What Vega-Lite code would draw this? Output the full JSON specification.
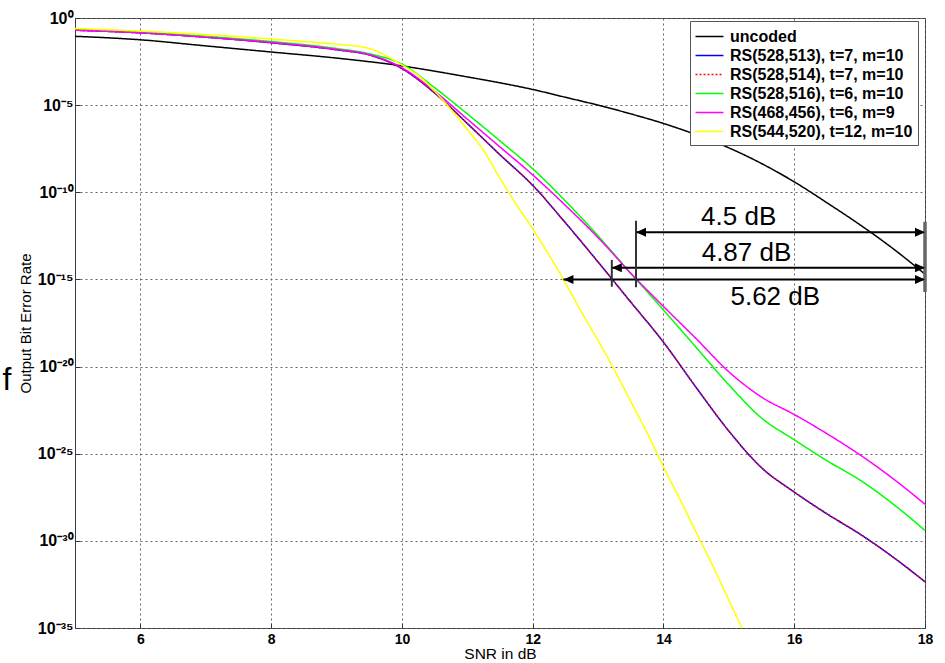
{
  "$schema": "https://vega.github.io/schema/vega-lite/v6.json",
  "width": 850,
  "height": 610,
  "autosize": {"type": "none"},
  "padding": {"left": 75, "top": 18, "right": 20, "bottom": 35},
  "background": "white",
  "config": {
    "font": "Liberation Sans",
    "view": {"stroke": "#3a3a3a", "strokeWidth": 1},
    "axis": {
      "labelFont": "Liberation Sans", "labelFontWeight": "bold", "labelColor": "#000",
      "titleFont": "Liberation Sans", "titleFontWeight": "normal", "titleFontSize": 15, "titleColor": "#000",
      "grid": true, "gridDash": [2, 3], "gridColor": "#666", "gridOpacity": 1,
      "ticks": true, "tickSize": -5, "tickColor": "#333",
      "domain": false, "labelFlush": false, "labelOverlap": false
    }
  },
  "datasets": {
    "curves": [
      {"series": "uncoded", "x": 5, "y": 8.91e-2}, {"series": "uncoded", "x": 6, "y": 5.62e-2}, {"series": "uncoded", "x": 7, "y": 2.51e-2}, {"series": "uncoded", "x": 8, "y": 1.12e-2}, {"series": "uncoded", "x": 9, "y": 5.01e-3}, {"series": "uncoded", "x": 10, "y": 1.78e-3}, {"series": "uncoded", "x": 10.5, "y": 8.91e-4}, {"series": "uncoded", "x": 11, "y": 4.17e-4}, {"series": "uncoded", "x": 11.5, "y": 1.91e-4}, {"series": "uncoded", "x": 12, "y": 7.94e-5}, {"series": "uncoded", "x": 12.5, "y": 2.82e-5}, {"series": "uncoded", "x": 13, "y": 1.0e-5}, {"series": "uncoded", "x": 13.5, "y": 3.16e-6}, {"series": "uncoded", "x": 14, "y": 8.91e-7}, {"series": "uncoded", "x": 14.5, "y": 2.0e-7}, {"series": "uncoded", "x": 15, "y": 3.55e-8}, {"series": "uncoded", "x": 15.5, "y": 4.47e-9}, {"series": "uncoded", "x": 16, "y": 3.98e-10}, {"series": "uncoded", "x": 16.5, "y": 2.51e-11}, {"series": "uncoded", "x": 17, "y": 1.41e-12}, {"series": "uncoded", "x": 17.5, "y": 6.31e-14}, {"series": "uncoded", "x": 18, "y": 2.0e-15},

      {"series": "RS(528,513), t=7, m=10", "x": 5, "y": 2.0e-1}, {"series": "RS(528,513), t=7, m=10", "x": 6, "y": 1.41e-1}, {"series": "RS(528,513), t=7, m=10", "x": 7, "y": 7.94e-2}, {"series": "RS(528,513), t=7, m=10", "x": 8, "y": 3.80e-2}, {"series": "RS(528,513), t=7, m=10", "x": 9, "y": 1.51e-2}, {"series": "RS(528,513), t=7, m=10", "x": 9.5, "y": 7.59e-3}, {"series": "RS(528,513), t=7, m=10", "x": 10, "y": 1.26e-3}, {"series": "RS(528,513), t=7, m=10", "x": 10.5, "y": 5.01e-5}, {"series": "RS(528,513), t=7, m=10", "x": 11, "y": 8.91e-7}, {"series": "RS(528,513), t=7, m=10", "x": 11.5, "y": 1.41e-8}, {"series": "RS(528,513), t=7, m=10", "x": 12, "y": 2.51e-10}, {"series": "RS(528,513), t=7, m=10", "x": 12.5, "y": 1.78e-12}, {"series": "RS(528,513), t=7, m=10", "x": 13, "y": 1e-14}, {"series": "RS(528,513), t=7, m=10", "x": 13.5, "y": 5.01e-17}, {"series": "RS(528,513), t=7, m=10", "x": 14, "y": 2.51e-19}, {"series": "RS(528,513), t=7, m=10", "x": 14.5, "y": 6.31e-22}, {"series": "RS(528,513), t=7, m=10", "x": 15, "y": 2.0e-24}, {"series": "RS(528,513), t=7, m=10", "x": 15.5, "y": 1.58e-26}, {"series": "RS(528,513), t=7, m=10", "x": 16, "y": 6.31e-28}, {"series": "RS(528,513), t=7, m=10", "x": 16.5, "y": 3.55e-29}, {"series": "RS(528,513), t=7, m=10", "x": 17, "y": 2.51e-30}, {"series": "RS(528,513), t=7, m=10", "x": 17.5, "y": 1.26e-31}, {"series": "RS(528,513), t=7, m=10", "x": 18, "y": 4.47e-33},

      {"series": "RS(528,514), t=7, m=10", "x": 5, "y": 2.0e-1}, {"series": "RS(528,514), t=7, m=10", "x": 6, "y": 1.41e-1}, {"series": "RS(528,514), t=7, m=10", "x": 7, "y": 7.94e-2}, {"series": "RS(528,514), t=7, m=10", "x": 8, "y": 3.80e-2}, {"series": "RS(528,514), t=7, m=10", "x": 9, "y": 1.51e-2}, {"series": "RS(528,514), t=7, m=10", "x": 9.5, "y": 7.59e-3}, {"series": "RS(528,514), t=7, m=10", "x": 10, "y": 1.26e-3}, {"series": "RS(528,514), t=7, m=10", "x": 10.5, "y": 5.01e-5}, {"series": "RS(528,514), t=7, m=10", "x": 11, "y": 8.91e-7}, {"series": "RS(528,514), t=7, m=10", "x": 11.5, "y": 1.41e-8}, {"series": "RS(528,514), t=7, m=10", "x": 12, "y": 2.51e-10}, {"series": "RS(528,514), t=7, m=10", "x": 12.5, "y": 1.78e-12}, {"series": "RS(528,514), t=7, m=10", "x": 13, "y": 1e-14}, {"series": "RS(528,514), t=7, m=10", "x": 13.5, "y": 5.01e-17}, {"series": "RS(528,514), t=7, m=10", "x": 14, "y": 2.51e-19}, {"series": "RS(528,514), t=7, m=10", "x": 14.5, "y": 6.31e-22}, {"series": "RS(528,514), t=7, m=10", "x": 15, "y": 2.0e-24}, {"series": "RS(528,514), t=7, m=10", "x": 15.5, "y": 1.58e-26}, {"series": "RS(528,514), t=7, m=10", "x": 16, "y": 6.31e-28}, {"series": "RS(528,514), t=7, m=10", "x": 16.5, "y": 3.55e-29}, {"series": "RS(528,514), t=7, m=10", "x": 17, "y": 2.51e-30}, {"series": "RS(528,514), t=7, m=10", "x": 17.5, "y": 1.26e-31}, {"series": "RS(528,514), t=7, m=10", "x": 18, "y": 4.47e-33},

      {"series": "RS(528,516), t=6, m=10", "x": 5, "y": 2.24e-1}, {"series": "RS(528,516), t=6, m=10", "x": 6, "y": 1.58e-1}, {"series": "RS(528,516), t=6, m=10", "x": 7, "y": 8.91e-2}, {"series": "RS(528,516), t=6, m=10", "x": 8, "y": 4.47e-2}, {"series": "RS(528,516), t=6, m=10", "x": 9, "y": 1.78e-2}, {"series": "RS(528,516), t=6, m=10", "x": 9.5, "y": 8.91e-3}, {"series": "RS(528,516), t=6, m=10", "x": 10, "y": 2.24e-3}, {"series": "RS(528,516), t=6, m=10", "x": 10.5, "y": 1.0e-4}, {"series": "RS(528,516), t=6, m=10", "x": 11, "y": 3.16e-6}, {"series": "RS(528,516), t=6, m=10", "x": 11.5, "y": 8.91e-8}, {"series": "RS(528,516), t=6, m=10", "x": 12, "y": 2.24e-9}, {"series": "RS(528,516), t=6, m=10", "x": 12.5, "y": 3.16e-11}, {"series": "RS(528,516), t=6, m=10", "x": 13, "y": 3.16e-13}, {"series": "RS(528,516), t=6, m=10", "x": 13.5, "y": 2.24e-15}, {"series": "RS(528,516), t=6, m=10", "x": 14, "y": 1.78e-17}, {"series": "RS(528,516), t=6, m=10", "x": 14.5, "y": 1.26e-19}, {"series": "RS(528,516), t=6, m=10", "x": 15, "y": 8.91e-22}, {"series": "RS(528,516), t=6, m=10", "x": 15.5, "y": 1.12e-23}, {"series": "RS(528,516), t=6, m=10", "x": 16, "y": 6.31e-25}, {"series": "RS(528,516), t=6, m=10", "x": 16.5, "y": 3.98e-26}, {"series": "RS(528,516), t=6, m=10", "x": 17, "y": 3.16e-27}, {"series": "RS(528,516), t=6, m=10", "x": 17.5, "y": 1.41e-28}, {"series": "RS(528,516), t=6, m=10", "x": 18, "y": 3.98e-30},

      {"series": "RS(468,456), t=6, m=9", "x": 5, "y": 2.0e-1}, {"series": "RS(468,456), t=6, m=9", "x": 6, "y": 1.41e-1}, {"series": "RS(468,456), t=6, m=9", "x": 7, "y": 7.94e-2}, {"series": "RS(468,456), t=6, m=9", "x": 8, "y": 3.98e-2}, {"series": "RS(468,456), t=6, m=9", "x": 9, "y": 1.58e-2}, {"series": "RS(468,456), t=6, m=9", "x": 9.5, "y": 7.94e-3}, {"series": "RS(468,456), t=6, m=9", "x": 10, "y": 1.41e-3}, {"series": "RS(468,456), t=6, m=9", "x": 10.5, "y": 6.31e-5}, {"series": "RS(468,456), t=6, m=9", "x": 11, "y": 1.58e-6}, {"series": "RS(468,456), t=6, m=9", "x": 11.5, "y": 3.98e-8}, {"series": "RS(468,456), t=6, m=9", "x": 12, "y": 1.0e-9}, {"series": "RS(468,456), t=6, m=9", "x": 12.5, "y": 1.78e-11}, {"series": "RS(468,456), t=6, m=9", "x": 13, "y": 2.51e-13}, {"series": "RS(468,456), t=6, m=9", "x": 13.5, "y": 2.24e-15}, {"series": "RS(468,456), t=6, m=9", "x": 14, "y": 2.82e-17}, {"series": "RS(468,456), t=6, m=9", "x": 14.5, "y": 3.98e-19}, {"series": "RS(468,456), t=6, m=9", "x": 15, "y": 5.01e-21}, {"series": "RS(468,456), t=6, m=9", "x": 15.5, "y": 1.78e-22}, {"series": "RS(468,456), t=6, m=9", "x": 16, "y": 1.78e-23}, {"series": "RS(468,456), t=6, m=9", "x": 16.5, "y": 1.41e-24}, {"series": "RS(468,456), t=6, m=9", "x": 17, "y": 8.91e-26}, {"series": "RS(468,456), t=6, m=9", "x": 17.5, "y": 3.98e-27}, {"series": "RS(468,456), t=6, m=9", "x": 18, "y": 1.26e-28},

      {"series": "RS(544,520), t=12, m=10", "x": 5, "y": 2.51e-1}, {"series": "RS(544,520), t=12, m=10", "x": 6, "y": 1.78e-1}, {"series": "RS(544,520), t=12, m=10", "x": 7, "y": 1.12e-1}, {"series": "RS(544,520), t=12, m=10", "x": 8, "y": 6.31e-2}, {"series": "RS(544,520), t=12, m=10", "x": 8.5, "y": 4.47e-2}, {"series": "RS(544,520), t=12, m=10", "x": 9, "y": 3.16e-2}, {"series": "RS(544,520), t=12, m=10", "x": 9.5, "y": 1.78e-2}, {"series": "RS(544,520), t=12, m=10", "x": 9.75, "y": 7.08e-3}, {"series": "RS(544,520), t=12, m=10", "x": 10, "y": 2.0e-3}, {"series": "RS(544,520), t=12, m=10", "x": 10.25, "y": 5.01e-4}, {"series": "RS(544,520), t=12, m=10", "x": 10.5, "y": 6.31e-5}, {"series": "RS(544,520), t=12, m=10", "x": 10.75, "y": 5.62e-6}, {"series": "RS(544,520), t=12, m=10", "x": 11, "y": 3.98e-7}, {"series": "RS(544,520), t=12, m=10", "x": 11.25, "y": 2.51e-8}, {"series": "RS(544,520), t=12, m=10", "x": 11.5, "y": 6.31e-10}, {"series": "RS(544,520), t=12, m=10", "x": 11.75, "y": 2.0e-11}, {"series": "RS(544,520), t=12, m=10", "x": 12, "y": 7.94e-13}, {"series": "RS(544,520), t=12, m=10", "x": 12.25, "y": 2.51e-14}, {"series": "RS(544,520), t=12, m=10", "x": 12.5, "y": 6.31e-16}, {"series": "RS(544,520), t=12, m=10", "x": 12.75, "y": 1.26e-17}, {"series": "RS(544,520), t=12, m=10", "x": 13, "y": 3.16e-19}, {"series": "RS(544,520), t=12, m=10", "x": 13.25, "y": 6.31e-21}, {"series": "RS(544,520), t=12, m=10", "x": 13.5, "y": 1e-22}, {"series": "RS(544,520), t=12, m=10", "x": 13.75, "y": 1.58e-24}, {"series": "RS(544,520), t=12, m=10", "x": 14, "y": 1.78e-26}, {"series": "RS(544,520), t=12, m=10", "x": 14.25, "y": 2.51e-28}, {"series": "RS(544,520), t=12, m=10", "x": 14.5, "y": 3.16e-30}, {"series": "RS(544,520), t=12, m=10", "x": 14.75, "y": 3.98e-32}, {"series": "RS(544,520), t=12, m=10", "x": 15, "y": 3.98e-34}, {"series": "RS(544,520), t=12, m=10", "x": 15.25, "y": 3.98e-36}
    ],
    "arrows": [
      {"label": "4.5 dB", "x": 13.58, "x2": 18, "y": 5.01e-13},
      {"label": "4.87 dB", "x": 13.21, "x2": 18, "y": 4.68e-15},
      {"label": "5.62 dB", "x": 12.47, "x2": 18, "y": 1e-15}
    ],
    "heads": [
      {"dir": "left", "x": 13.58, "y": 5.01e-13},
      {"dir": "left", "x": 13.21, "y": 4.68e-15},
      {"dir": "left", "x": 12.47, "y": 1e-15},
      {"dir": "right", "x": 18, "y": 5.01e-13},
      {"dir": "right", "x": 18, "y": 4.68e-15},
      {"dir": "right", "x": 18, "y": 1e-15}
    ],
    "ticks": [
      {"x": 13.58, "y": 2.34e-12, "y2": 3.55e-16},
      {"x": 13.21, "y": 1.32e-14, "y2": 3.80e-16}
    ],
    "edge": [
      {"x": 18, "y": 2.04e-12, "y2": 1.9e-16}
    ],
    "gaps": [
      {"label": "4.5 dB", "x": 15.15, "y": 3.98e-12},
      {"label": "4.87 dB", "x": 15.27, "y": 3.47e-14},
      {"label": "5.62 dB", "x": 15.71, "y": 9.55e-17}
    ],
    "stray": [
      {"label": "f", "x": 3.96, "y": 1.70e-21}
    ]
  },
  "encoding": {
    "x": {
      "field": "x", "type": "quantitative",
      "scale": {"domain": [5, 18], "nice": false, "zero": false},
      "axis": {"values": [6, 8, 10, 12, 14, 16, 18], "title": "SNR in dB", "labelFontSize": 14, "labelPadding": 9, "titlePadding": 0, "titleFontSize": 15.5}
    },
    "y": {
      "field": "y", "type": "quantitative",
      "scale": {"type": "log", "domain": [1e-35, 1], "nice": false},
      "axis": {
        "values": [1, 1e-5, 1e-10, 1e-15, 1e-20, 1e-25, 1e-30, 1e-35],
        "labelExpr": "['10⁰','10⁻⁵','10⁻¹⁰','10⁻¹⁵','10⁻²⁰','10⁻²⁵','10⁻³⁰','10⁻³⁵'][round(-log(datum.value)/LN10/5)]",
        "labelFontSize": 16,
        "title": "Output Bit Error Rate", "labelPadding": 7, "titlePadding": 4
      }
    }
  },
  "layer": [
    {
      "data": {"name": "curves"},
      "mark": {"type": "line", "clip": true, "strokeWidth": 1.5, "interpolate": "monotone"},
      "encoding": {
        "color": {
          "field": "series", "type": "nominal",
          "scale": {
            "domain": ["uncoded", "RS(528,513), t=7, m=10", "RS(528,514), t=7, m=10", "RS(528,516), t=6, m=10", "RS(468,456), t=6, m=9", "RS(544,520), t=12, m=10"],
            "range": ["#000000", "#0000ff", "#ff0000", "#00ff00", "#ff00ff", "#ffff00"]
          },
          "legend": {
            "orient": "none", "legendX": 615, "legendY": 3, "title": null,
            "fillColor": "white", "strokeColor": "#555", "padding": 5,
            "symbolType": "M-1.45,0L1.45,0", "symbolSize": 372, "symbolStrokeWidth": 1.5, "symbolOffset": 4,
            "labelFont": "Liberation Sans", "labelFontSize": 16, "labelFontWeight": "bold", "labelColor": "#000",
            "rowPadding": 0, "labelOffset": 10, "labelLimit": 400
          }
        },
        "strokeDash": {
          "field": "series", "type": "nominal",
          "scale": {
            "domain": ["uncoded", "RS(528,513), t=7, m=10", "RS(528,514), t=7, m=10", "RS(528,516), t=6, m=10", "RS(468,456), t=6, m=9", "RS(544,520), t=12, m=10"],
            "range": [[1, 0], [1, 0], [2, 2], [1, 0], [1, 0], [1, 0]]
          },
          "legend": {
            "orient": "none", "legendX": 615, "legendY": 3, "title": null,
            "fillColor": "white", "strokeColor": "#555", "padding": 5,
            "symbolType": "M-1.45,0L1.45,0", "symbolSize": 372, "symbolStrokeWidth": 1.5, "symbolOffset": 4,
            "labelFont": "Liberation Sans", "labelFontSize": 16, "labelFontWeight": "bold", "labelColor": "#000",
            "rowPadding": 0, "labelOffset": 10, "labelLimit": 400
          }
        }
      }
    },
    {
      "data": {"name": "arrows"},
      "mark": {"type": "rule", "strokeWidth": 2, "color": "#000"},
      "encoding": {"x2": {"field": "x2"}}
    },
    {
      "data": {"name": "ticks"},
      "mark": {"type": "rule", "strokeWidth": 2, "color": "#333"},
      "encoding": {"y2": {"field": "y2"}}
    },
    {
      "data": {"name": "edge"},
      "mark": {"type": "rule", "strokeWidth": 3.5, "color": "#666"},
      "encoding": {"y2": {"field": "y2"}}
    },
    {
      "data": {"name": "heads"},
      "mark": {"type": "point", "filled": true, "size": 400, "color": "#000", "opacity": 1, "strokeWidth": 0},
      "encoding": {
        "shape": {
          "field": "dir", "type": "nominal",
          "scale": {"domain": ["left", "right"], "range": ["M0,0L1,-0.45L1,0.45Z", "M0,0L-1,-0.45L-1,0.45Z"]},
          "legend": null
        }
      }
    },
    {
      "data": {"name": "gaps"},
      "mark": {"type": "text", "font": "Liberation Sans", "fontSize": 26, "color": "#000", "align": "center", "baseline": "middle"},
      "encoding": {"text": {"field": "label"}}
    },
    {
      "data": {"name": "stray"},
      "mark": {"type": "text", "font": "Liberation Sans", "fontSize": 32, "color": "#000", "align": "center", "baseline": "middle"},
      "encoding": {"text": {"field": "label"}}
    }
  ]
}
